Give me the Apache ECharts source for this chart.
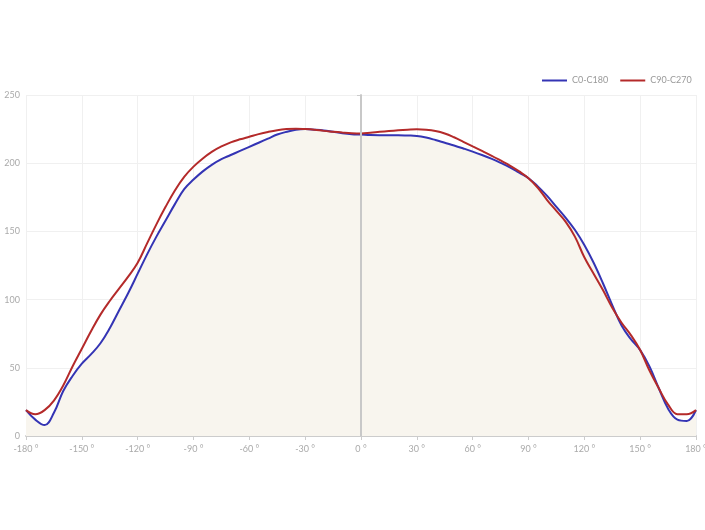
<!DOCTYPE html>
<html>
<head>
<meta charset="utf-8">
<script src="https://cdn.jsdelivr.net/npm/echarts@6/dist/echarts.min.js"></script>
<style>html,body{margin:0;padding:0;background:#fff;overflow:hidden;}#chart{width:705px;height:530px;}</style>
</head>
<body>
<div id="chart"></div>
<script>
const angles = [-180,-175,-170,-165,-160,-155,-150,-145,-140,-135,-130,-125,-120,-115,-110,-105,-100,-95,-90,-85,-80,-75,-70,-65,-60,-55,-50,-45,-40,-35,-30,-25,-20,-15,-10,-5,0,5,10,15,20,25,30,35,40,45,50,55,60,65,70,75,80,85,90,95,100,105,110,115,120,125,130,135,140,145,150,155,160,165,170,175,180];
const c0c180 = [19,12,8,17,33,44,53,60,68,79,92,105,119,133,146,158,170,181,188,194,199,203,206,209,212,215,218,221,223,224.5,225,224.6,224,223,222,221.3,221,220.6,220.5,220.5,220.5,220.3,220,218.8,217,215,213,210.8,208.5,206,203.3,200.3,197,193,189,183,176,168,160,151,140,127,112,96,81,71,63,51,35,20,12,11,19];
const c90c270 = [19,16,19,26,37,51,64,77,89,99,108,117,127,141,155,168,180,190,197.5,203.5,208.5,212.3,215.3,217.5,219.4,221.3,222.9,224.2,225,225.3,225,224.5,223.7,223.1,222.5,222,221.8,222.3,223,223.6,224.1,224.5,224.8,224.5,223.6,221.8,219,215.7,212.3,209,205.6,202,198.3,194,189,182,173,165,157,146,131,119,107,94,83,74,63,48,35,23,16,16,19];
const seriesNames = ['C0-C180','C90-C270'];
const xTicks = {min:-180, max:180, interval:30};
const yTicks = {min:0, max:250, interval:50};

const pair = (ys) => angles.map((a, i) => [a, ys[i]]);
const labelFont = {color:'#aaa', fontSize:9, fontFamily:'Lato, "DejaVu Sans", sans-serif'};
const chart = echarts.init(document.getElementById('chart'), null, {renderer:'canvas', width:705, height:530});
chart.setOption({
  animation:false,
  backgroundColor:'#fff',
  legend:{
    left:537, top:71, itemWidth:25, itemHeight:2, itemGap:12,
    icon:'rect',
    textStyle:{color:'#999', fontSize:9, fontFamily:'Lato, "DejaVu Sans", sans-serif'},
    data:seriesNames
  },
  grid:{left:26, width:670, top:95, height:341, containLabel:false, outerBoundsMode:'none'},
  xAxis:{
    type:'value', min:xTicks.min, max:xTicks.max, interval:xTicks.interval,
    axisLine:{show:true, onZero:false, lineStyle:{color:'#ccc', width:2}},
    axisTick:{show:true, length:4, lineStyle:{color:'#ccc'}},
    axisLabel:Object.assign({formatter:(v)=>v+' °', margin:9}, labelFont),
    splitLine:{show:true, lineStyle:{color:'#f0f0f0', width:1}}
  },
  yAxis:{
    type:'value', min:yTicks.min, max:yTicks.max, interval:yTicks.interval,
    axisLine:{show:true, lineStyle:{color:'#ccc', width:2}},
    axisTick:{show:true, length:4, lineStyle:{color:'#ccc'}},
    axisLabel:Object.assign({margin:6}, labelFont),
    splitLine:{show:true, lineStyle:{color:'#f0f0f0', width:1}}
  },
  series:[
    {
      name:seriesNames[0], type:'line', smooth:0.4, showSymbol:false, symbol:'none',
      data:pair(c0c180),
      lineStyle:{color:'#3434b4', width:2},
      itemStyle:{color:'#3434b4'},
      areaStyle:{color:'#f8f5ee', opacity:1},
      z:2,
      markLine:{
        silent:true, symbol:['none','none'], label:{show:false},
        lineStyle:{color:'#c8c8c8', width:2, type:'solid'},
        data:[{xAxis:0}]
      }
    },
    {
      name:seriesNames[1], type:'line', smooth:0.4, showSymbol:false, symbol:'none',
      data:pair(c90c270),
      lineStyle:{color:'#b42a2a', width:2},
      itemStyle:{color:'#b42a2a'},
      z:3
    }
  ]
});
</script>
</body>
</html>
